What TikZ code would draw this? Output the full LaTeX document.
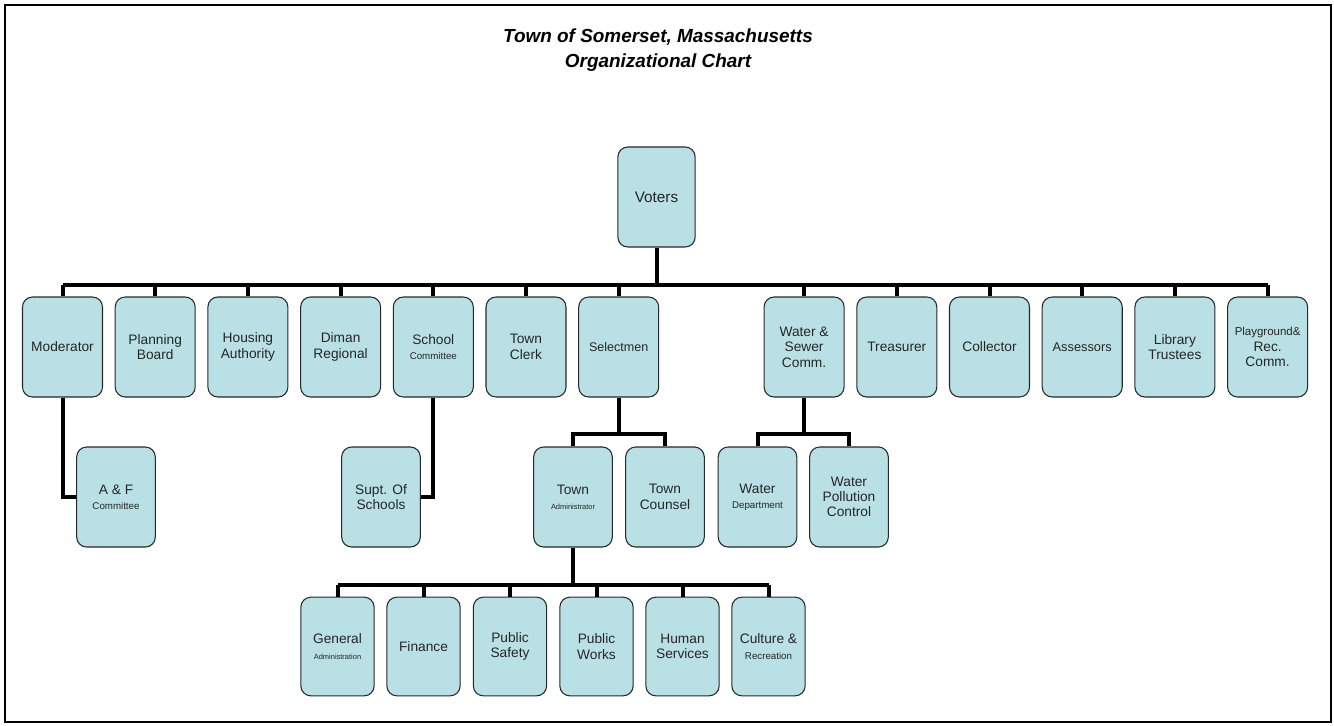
\documentclass[tikz,border=0pt]{standalone}
\usepackage{fontspec}
\setmainfont{Liberation Sans}
\usepackage{tikz}
\definecolor{boxfill}{RGB}{185,224,228}
\definecolor{boxline}{RGB}{40,40,40}
\tikzset{
	box/.style={draw=boxline, line width=0.8pt, fill=boxfill, rounded corners=7.5pt,
		minimum width=60pt, minimum height=75pt, inner sep=1pt, align=center,
		font=\fontsize{10.3}{11.5}\selectfont, text=black!85},
	small box/.style={box, minimum width=55pt, minimum height=74pt},
	link/.style={line width=3pt, line join=miter},
	tiny/.style={font=\fontsize{5.5}{7}\selectfont},
}
\newcommand{\sm}[1]{{\fontsize{7.3}{9}\selectfont #1}}
\newcommand{\xs}[1]{{\fontsize{5.6}{7}\selectfont #1}}
\begin{document}
\begin{tikzpicture}[x=0.75pt,y=-0.75pt]
	
	\useasboundingbox (0,0) rectangle (1334,725);
	\draw[line width=1.5pt] (5,5) rectangle (1331,722);
	
	\node[align=center, font=\fontsize{14.2}{18.8}\selectfont\bfseries\itshape] (title) at (658,50)
		{Town of Somerset, Massachusetts\\Organizational Chart};
	
	\node[box, minimum width=58pt, font=\fontsize{11.5}{13}\selectfont] (vot) at (656.5,197) {Voters};
	\coordinate (bus) at (656.5,285);
	
	% first row
	\node[box] (mod) at (62.5,347) {Moderator};
	\node[box] (pla) at (155.2,347) {Planning\\Board};
	\node[box] (hou) at (247.9,347) {Housing\\Authority};
	\node[box] (dim) at (340.6,347) {Diman\\Regional};
	\node[box] (sch) at (433.3,347) {School\\\sm{Committee}};
	\node[box] (clk) at (526,347) {Town\\Clerk};
	\node[box, font=\fontsize{9.4}{11}\selectfont] (sel) at (618.7,347) {Selectmen};
	\node[box] (wsc) at (804.1,347) {Water \&\\Sewer\\Comm.};
	\node[box] (tre) at (896.8,347) {Treasurer};
	\node[box] (col) at (989.5,347) {Collector};
	\node[box, font=\fontsize{9.6}{11}\selectfont] (ass) at (1082.2,347) {Assessors};
	\node[box] (lib) at (1174.9,347) {Library\\Trustees};
	\node[box] (pg) at (1267.6,347) {{\fontsize{8.6}{10}\selectfont Playground\&}\\Rec.\\Comm.};
	
	\draw[link] (vot.south) -- (bus);
	\draw[link] (mod.north |- bus) -- (pg.north |- bus);
	\foreach \n in {mod,pla,hou,dim,sch,clk,sel,wsc,tre,col,ass,lib,pg}
		\draw[link] (\n.north) -- (\n.north |- bus);
	
	% second row
	\node[box, minimum width=59pt] (af) at (116,497) {A \& F\\\sm{Committee}};
	\node[box, minimum width=59pt] (sup) at (381,497) {Supt. Of\\Schools};
	\node[box, minimum width=59pt] (adm) at (573,497) {Town\\\xs{Administrator}};
	\node[box, minimum width=59pt] (cou) at (665,497) {Town\\Counsel};
	\node[box, minimum width=59pt] (wd) at (757.5,497) {Water\\\sm{Department}};
	\node[box, minimum width=59pt] (wpc) at (849,497) {Water\\Pollution\\Control};
	
	\draw[link] (mod.south) |- (af.west);
	\draw[link] (sch.south) |- (sup.east);
	
	\coordinate (sbus) at (618.7,434);
	\draw[link] (sel.south) -- (sbus);
	\draw[link] (adm.north) |- (sbus) -| (cou.north);
	
	\coordinate (wbus) at (804.1,434);
	\draw[link] (wsc.south) -- (wbus);
	\draw[link] (wd.north) |- (wbus) -| (wpc.north);
	
	% third row
	\node[small box] (gen) at (337.5,646.5) {General\\\xs{Administration}};
	\node[small box] (fin) at (423.5,646.5) {Finance};
	\node[small box] (ps) at (510,646.5) {Public\\Safety};
	\node[small box] (pw) at (596.5,646.5) {Public\\Works};
	\node[small box] (hum) at (682.5,646.5) {Human\\Services};
	\node[small box] (cul) at (768.5,646.5) {Culture \&\\\sm{Recreation}};
	
	\coordinate (abus) at (573,585);
	\draw[link] (adm.south) -- (abus);
	\draw[link] (gen.north |- abus) -- (cul.north |- abus);
	\foreach \n in {gen,fin,ps,pw,hum,cul}
		\draw[link] (\n.north) -- (\n.north |- abus);
	
\end{tikzpicture}
\end{document}
